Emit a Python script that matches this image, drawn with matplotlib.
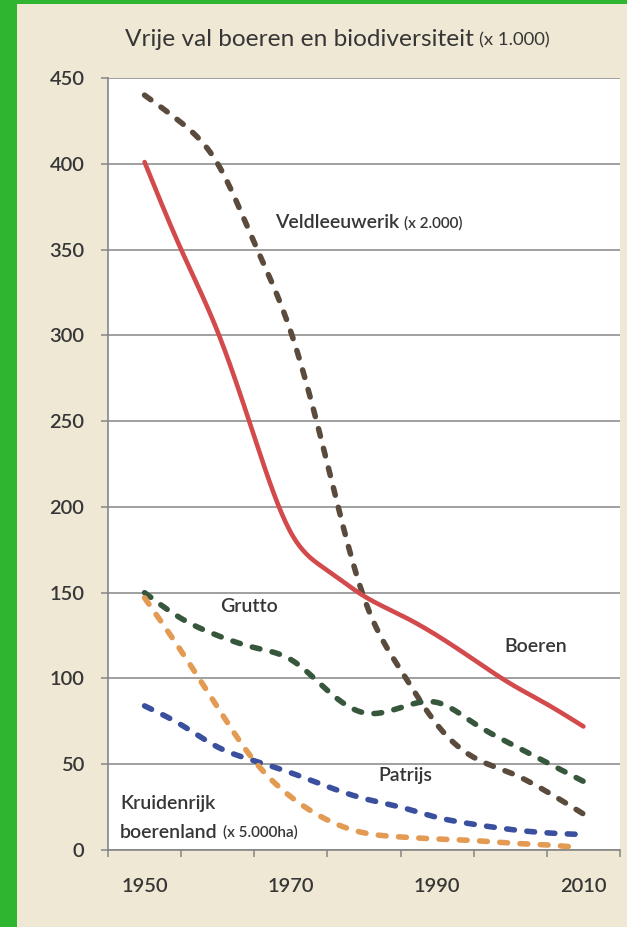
import numpy as np
import matplotlib
matplotlib.use("Agg")
import matplotlib.pyplot as plt
from matplotlib.patches import Rectangle

# ---------------- data ----------------
years = [1950, 1955, 1960, 1965, 1970, 1975, 1980, 1985, 1990, 1995, 2000, 2005, 2010]
boeren = [401, 350, 302, 241, 185, 163, 148, 137, 125, 111, 97, 85, 72]
veldleeuwerik = [440, 424, 400, 354, 302, 225, 147, 105, 73, 54, 45, 34, 21]
grutto = [150, 135, 125, 118, 111, 93, 80, 83, 86, 74, 62, 51, 40]
patrijs = [84, 73, 60, 52, 45, 37, 30, 25, 19, 15, 12, 10, 9]
kruiden_years = [1950, 1955, 1960, 1965, 1970, 1975, 1980, 1985, 1990, 1995, 2000, 2005, 2008]
kruidenrijk = [147, 116, 83, 52, 31, 17.5, 10, 7.6, 6.4, 5.5, 4, 3, 2]

y_ticks = [0, 50, 100, 150, 200, 250, 300, 350, 400, 450]
x_labels = [1950, 1970, 1990, 2010]
x_bounds = [1945, 1955, 1965, 1975, 1985, 1995, 2005, 2015]

title_main = "Vrije val boeren en biodiversiteit"
title_small = "(x 1.000)"

# ---------------- helpers ----------------
def spline(x, y, n=600):
    """Natural cubic spline through the data points (for a smooth line)."""
    x = np.asarray(x, float)
    y = np.asarray(y, float)
    k = len(x)
    h = np.diff(x)
    A = np.zeros((k, k))
    b = np.zeros(k)
    A[0, 0] = A[-1, -1] = 1.0
    for i in range(1, k - 1):
        A[i, i - 1] = h[i - 1]
        A[i, i] = 2 * (h[i - 1] + h[i])
        A[i, i + 1] = h[i]
        b[i] = 6 * ((y[i + 1] - y[i]) / h[i] - (y[i] - y[i - 1]) / h[i - 1])
    M = np.linalg.solve(A, b)
    xs = np.linspace(x[0], x[-1], n)
    idx = np.clip(np.searchsorted(x, xs) - 1, 0, k - 2)
    x0, x1 = x[idx], x[idx + 1]
    hh = h[idx]
    ys = (M[idx] * (x1 - xs) ** 3 / (6 * hh) + M[idx + 1] * (xs - x0) ** 3 / (6 * hh)
          + (y[idx] / hh - M[idx] * hh / 6) * (x1 - xs)
          + (y[idx + 1] / hh - M[idx + 1] * hh / 6) * (xs - x0))
    return xs, ys

FONT = ["Lato", "DejaVu Sans"]
plt.rcParams["font.family"] = FONT
TXT = "#363636"
WEIGHT = "semibold"

W, H = 627, 927
fig = plt.figure(figsize=(W / 100, H / 100), dpi=100)
fig.patch.set_facecolor("#efe8d4")

# green frame (left and top)
fig.patches.append(Rectangle((0, 0), 17 / W, 1, transform=fig.transFigure,
                             facecolor="#2fb52f", edgecolor="none", zorder=0))
fig.patches.append(Rectangle((0, 1 - 4 / H), 1, 4 / H, transform=fig.transFigure,
                             facecolor="#2fb52f", edgecolor="none", zorder=0))

ax = fig.add_axes([108 / W, (H - 850) / H, (620 - 108) / W, (850 - 78) / H])
ax.set_facecolor("white")
ax.set_xlim(1945, 2015)
ax.set_ylim(0, 450)

GRID = "#858585"
ax.set_yticks(y_ticks)
ax.set_yticklabels([str(v) for v in y_ticks], fontweight=WEIGHT)
ax.grid(axis="y", color=GRID, lw=1.1, zorder=1)
ax.tick_params(axis="y", length=5, width=1.1, color=GRID, pad=12,
               labelsize=14.5, labelcolor=TXT)

ax.set_xticks(x_bounds)
ax.set_xticklabels([""] * len(x_bounds))
ax.set_xticks(x_labels, minor=True)
ax.set_xticklabels([str(v) for v in x_labels], minor=True, fontweight=WEIGHT)
ax.tick_params(axis="x", which="major", length=5, width=1.1, color=GRID)
ax.tick_params(axis="x", which="minor", length=0, pad=20, labelsize=14.5, labelcolor=TXT)

for s in ["top", "right"]:
    ax.spines[s].set_visible(False)
for s in ["left", "bottom"]:
    ax.spines[s].set_color(GRID)
    ax.spines[s].set_linewidth(1.2)

LW = 4.0
dash = (0, (1.4, 2.25))

xs, ys = spline(years, veldleeuwerik)
ax.plot(xs, ys, color="#5a4b3d", lw=LW, ls=dash, dash_capstyle="round", zorder=3)
xs, ys = spline(years, grutto)
ax.plot(xs, ys, color="#37573d", lw=LW, ls=dash, dash_capstyle="round", zorder=3)
xs, ys = spline(years, patrijs)
ax.plot(xs, ys, color="#3a4f9e", lw=LW, ls=dash, dash_capstyle="round", zorder=3)
xs, ys = spline(kruiden_years, kruidenrijk)
ax.plot(xs, ys, color="#e39a52", lw=LW, ls=dash, dash_capstyle="round", zorder=3)
xs, ys = spline(years, boeren)
ax.plot(xs, ys, color="#d34a4c", lw=3.3, solid_capstyle="round", zorder=4)

def px2data(px, py):
    return 1945 + (px - 108) / ((620 - 108) / 70), (850 - py) / ((850 - 78) / 450)

def label(px, py, main, small=None, size=14.0, small_size=11.0):
    x, y = px2data(px, py)
    t = ax.text(x, y, main, fontsize=size, color=TXT, ha="left", va="center",
                fontweight=WEIGHT, zorder=5)
    if small:
        fig.canvas.draw()
        bb = t.get_window_extent()
        xd, _ = ax.transData.inverted().transform((bb.x1 + 5, 0))
        ax.text(xd, y, small, fontsize=small_size, color=TXT, ha="left", va="center",
                fontweight=WEIGHT, zorder=5)

label(275, 223, "Veldleeuwerik", "(x 2.000)")
label(220, 607, "Grutto")
label(504, 647, "Boeren")
label(378, 775, "Patrijs")
label(120, 804, "Kruidenrijk")
label(120, 832, "boerenland", "(x 5.000ha)")

# title
t = fig.text(125 / W, 1 - 39 / H, title_main, fontsize=17.6, color=TXT, ha="left", va="center")
fig.canvas.draw()
bb = t.get_window_extent()
fig.text((bb.x1 + 5) / W, 1 - 40 / H, title_small, fontsize=13.3, color=TXT, ha="left", va="center")

fig.savefig("out.png", dpi=100, facecolor=fig.get_facecolor())
